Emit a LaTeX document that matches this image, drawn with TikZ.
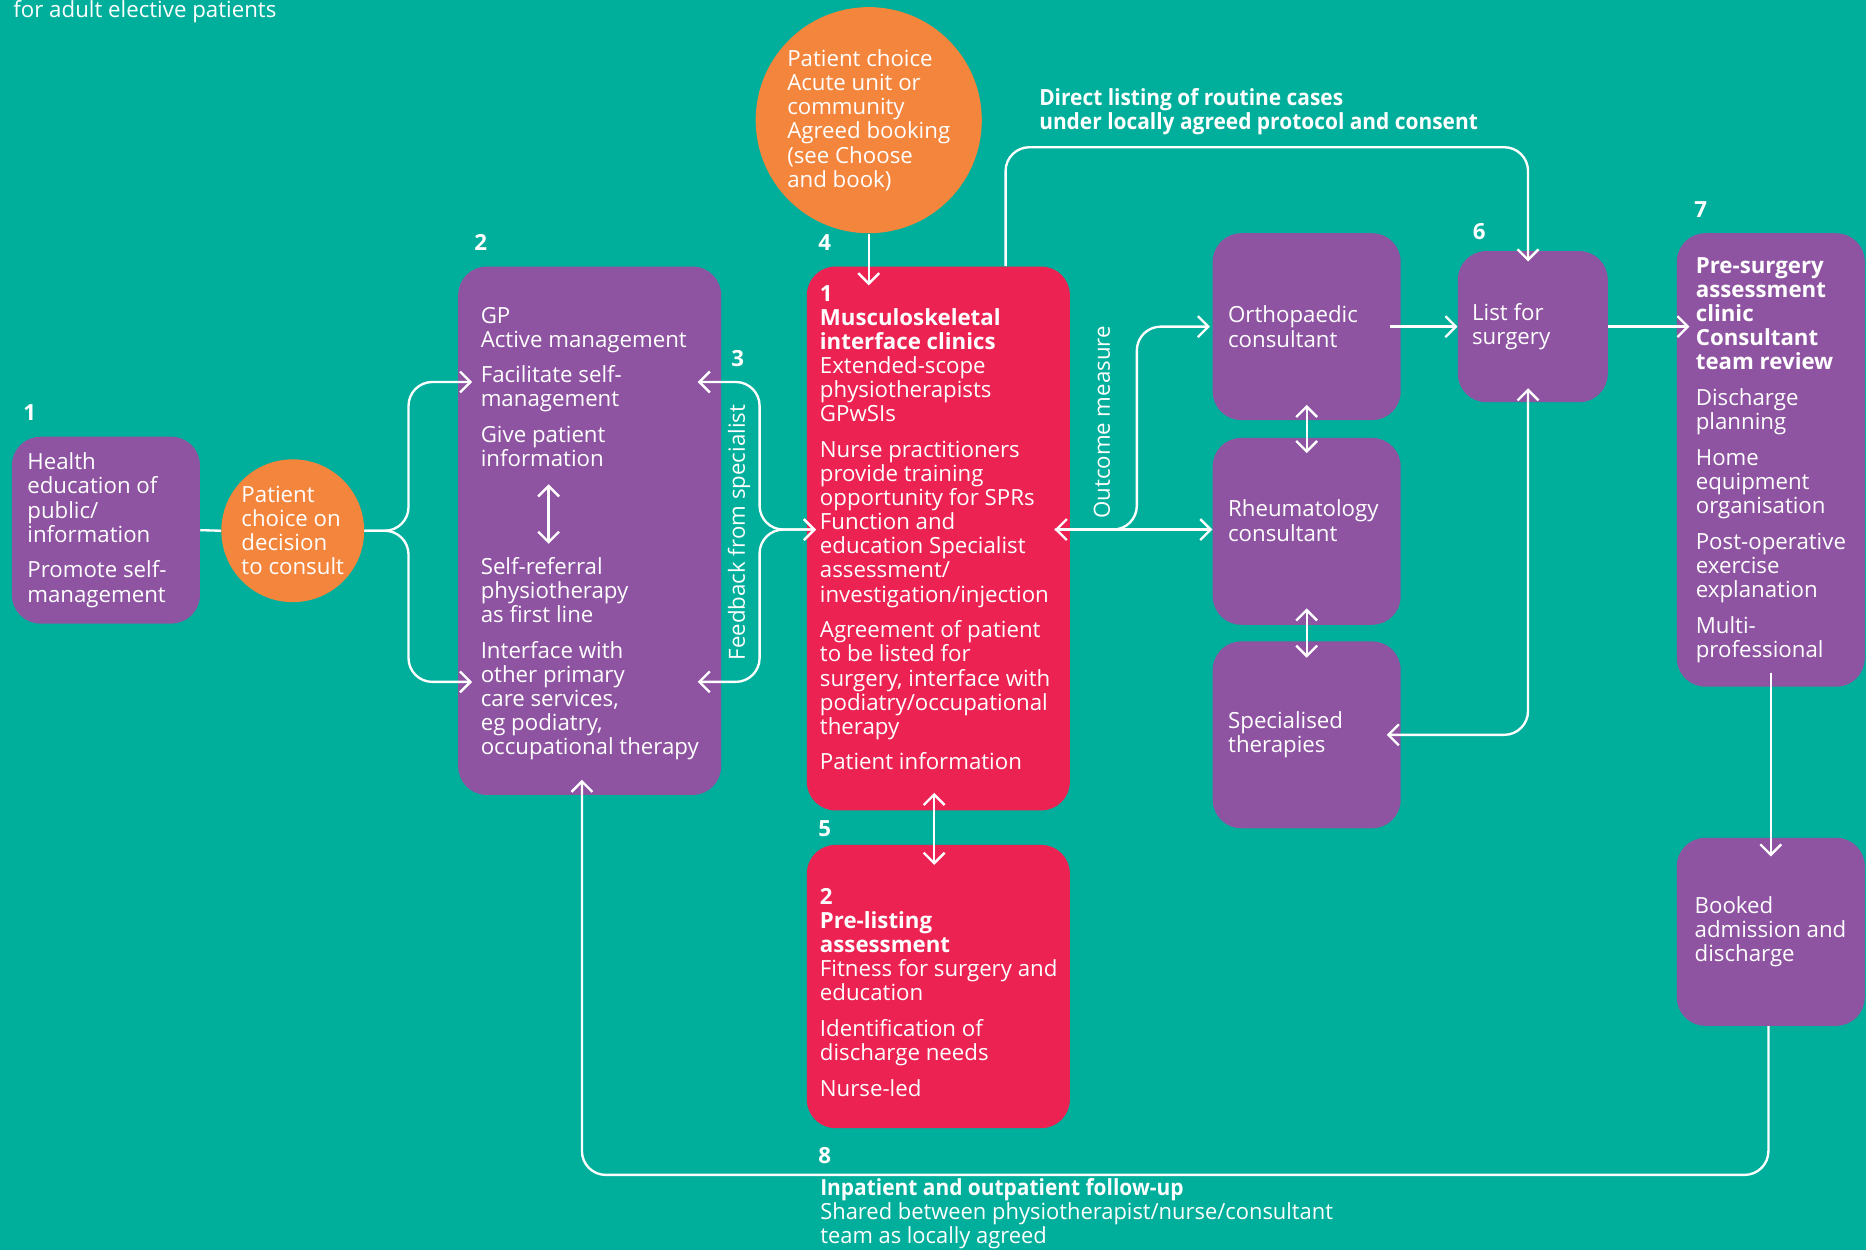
\documentclass[tikz,border=0pt]{standalone}
\usepackage{fontspec}
\setmainfont{Open Sans}
\newfontfamily\narrowfont[FakeStretch=0.985]{Open Sans}
\newfontfamily\narrowbold[FakeStretch=0.94]{Open Sans Bold}
\usetikzlibrary{arrows.meta}
\usetikzlibrary{positioning}

\definecolor{bgteal}{RGB}{0,175,155}
\definecolor{boxpurple}{RGB}{142,83,161}
\definecolor{boxred}{RGB}{236,34,82}
\definecolor{dotorange}{RGB}{243,133,60}

\newcommand{\flowfont}{\fontsize{13.3}{14.4}\selectfont}

\tikzset{
  >={Straight Barb[length=2.2mm,width=4.4mm]},
  purplebox/.style={rectangle, rounded corners=0.6cm, fill=boxpurple, inner sep=0pt},
  redbox/.style={rectangle, rounded corners=0.6cm, fill=boxred, inner sep=0pt},
  choicedot/.style={circle, fill=dotorange, inner sep=0pt, text=white, align=left, font=\flowfont},
  boxtext/.style={align=left, inner sep=0pt, text=white, font=\flowfont},
  steplabel/.style={inner sep=0pt, text=white, font=\flowfont\bfseries},
  pathlabel/.style={anchor=west, align=left, inner sep=0pt, text=white, font=\fontsize{13.3}{14.4}\narrowfont},
  flow/.style={draw=white, line width=1.4pt, rounded corners=0.5cm}
}

\begin{document}
\begin{tikzpicture}

  \useasboundingbox (0,0) rectangle (39.2,26.25);
  \fill[bgteal] (0,0) rectangle (39.2,26.25);

  % ---------- Title ----------
  \node[anchor=base west, inner sep=0pt, text=white, font=\flowfont] (title) at (0.275,25.875) {for adult elective patients};

  % ---------- Primary care ----------

  % Shapes
  \node[purplebox, minimum width=3.95cm, minimum height=3.925cm] (health) at (2.225,15.1125) {};
  \node[choicedot, minimum size=3cm] (choice1) at (6.15,15.1) {Patient\\choice on\\decision\\to consult};
  \node[purplebox, minimum width=5.525cm, minimum height=11.1cm] (gp) at (12.3875,15.1) {};

  % Labels
  \node[boxtext, right=0.325cm of health.west] (healthtxt) {Health\\education of\\public/\\information\\[7pt]Promote self-\\management};
  \node[boxtext, right=0.475cm of gp.west, yshift=-0.06cm] (gptxt) {GP\\Active management\\[7pt]Facilitate self-\\management\\[7pt]Give patient\\information\\[50pt]Self-referral\\physiotherapy\\as first line\\[7pt]Interface with\\other primary\\care services,\\eg podiatry,\\occupational therapy};
  \node[steplabel] (n1) at (0.625,17.575) {1};
  \node[steplabel] (n2) at (10.1,21.15) {2};
  \node[steplabel] (n3) at (15.5,18.725) {3};
  \node[text=white, rotate=90, inner sep=0pt, font=\flowfont] (fbtxt) at (15.525,15.0625) {Feedback from specialist};

  % ---------- Interface service ----------

  % Shapes
  \node[choicedot, minimum size=4.75cm] (choice2) at (18.25,23.725) {Patient choice\\Acute unit or\\community\\Agreed booking\\(see Choose\\and book)};
  \node[redbox, minimum width=5.525cm, minimum height=11.425cm] (msk) at (19.7125,14.9375) {};
  \node[redbox, minimum width=5.525cm, minimum height=5.95cm] (prelist) at (19.7125,5.525) {};

  % Labels
  \node[boxtext, right=0.275cm of msk.west, yshift=0.225cm] (msktxt) {\textbf{1}\\\textbf{Musculoskeletal}\\\textbf{interface clinics}\\Extended-scope\\physiotherapists\\GPwSIs\\[7pt]Nurse practitioners\\provide training\\opportunity for SPRs\\Function and\\education Specialist\\assessment/\\investigation/injection\\[7pt]Agreement of patient\\to be listed for\\surgery, interface with\\podiatry/occupational\\therapy\\[7pt]Patient information};
  \node[boxtext, right=0.275cm of prelist.west, yshift=-0.125cm] (prelisttxt) {\textbf{2}\\\textbf{Pre-listing}\\\textbf{assessment}\\Fitness for surgery and\\education\\[7pt]Identification of\\discharge needs\\[7pt]Nurse-led};
  \node[steplabel] (n4) at (17.325,21.15) {4};
  \node[steplabel] (n5) at (17.325,8.85) {5};
  \node[text=white, rotate=90, inner sep=0pt, font=\flowfont] (outtxt) at (23.15,17.375) {Outcome measure};
  \node[pathlabel, font=\fontsize{13.3}{14.4}\narrowbold] (dltxt) at (21.825,23.9) {Direct listing of routine cases\\under locally agreed protocol and consent};

  % ---------- Secondary care ----------

  % Shapes
  \node[purplebox, minimum width=3.95cm, minimum height=3.925cm] (ortho) at (27.45,19.3875) {};
  \node[purplebox, minimum width=3.95cm, minimum height=3.925cm] (rheum) at (27.45,15.0875) {};
  \node[purplebox, minimum width=3.95cm, minimum height=3.925cm] (spec) at (27.45,10.8125) {};
  \node[purplebox, minimum width=3.15cm, minimum height=3.175cm] (listsurg) at (32.2,19.3875) {};
  \node[purplebox, minimum width=3.95cm, minimum height=9.525cm] (presurg) at (37.2,16.5875) {};
  \node[purplebox, minimum width=3.95cm, minimum height=3.95cm] (booked) at (37.2,6.675) {};

  % Labels
  \node[boxtext, right=0.325cm of ortho.west] (orthotxt) {Orthopaedic\\consultant};
  \node[boxtext, right=0.325cm of rheum.west, yshift=0.225cm] (rheumtxt) {Rheumatology\\consultant};
  \node[boxtext, right=0.325cm of spec.west] (spectxt) {Specialised\\therapies};
  \node[boxtext, right=0.3cm of listsurg.west] (listsurgtxt) {List for\\surgery};
  \node[boxtext, right=0.4cm of presurg.west] (presurgtxt) {\textbf{Pre-surgery}\\\textbf{assessment}\\\textbf{clinic}\\\textbf{Consultant}\\\textbf{team review}\\[7pt]Discharge\\planning\\[7pt]Home\\equipment\\organisation\\[7pt]Post-operative\\exercise\\explanation\\[7pt]Multi-\\professional};
  \node[boxtext, right=0.375cm of booked.west] (bookedtxt) {Booked\\admission and\\discharge};
  \node[steplabel] (n6) at (31.075,21.375) {6};
  \node[steplabel] (n7) at (35.725,21.85) {7};
  \node[steplabel] (n8) at (17.325,1.975) {8};
  \node[pathlabel] (futxt) at (17.225,0.75) {{\narrowbold Inpatient and outpatient follow-up}\\Shared between physiotherapist/nurse/consultant\\team as locally agreed};

  % ---------- Lines ----------
  \coordinate (midrow) at (0,15.125);
  \coordinate (gpin1) at ([xshift=0.3cm]gp.west |- 0,18.225);
  \coordinate (gpin2) at ([xshift=0.3cm]gp.west |- 0,11.925);
  \coordinate (gpfb1) at ([xshift=-0.5cm]gp.east |- gpin1);
  \coordinate (gpfb2) at ([xshift=-0.5cm]gp.east |- gpin2);
  \coordinate (mskin) at ([xshift=0.2cm]msk.west |- midrow);
  \coordinate (outtip) at ([xshift=-0.325cm]msk.east |- midrow);

  \draw[flow] (health.east) -- (choice1.west);
  \draw[flow, ->] (choice1.east) -- ++(0.925,0) |- (gpin1);
  \draw[flow, ->] (choice1.east) -- ++(0.925,0) |- (gpin2);
  \draw[flow, <->] ([shift={(-0.8625,0.975)}]gp.center) -- ([shift={(-0.8625,-0.275)}]gp.center);
  \draw[flow, <->] (gpfb1) -- ([xshift=1.3cm]gpfb1) |- (mskin);
  \draw[flow, <->] (gpfb2) -- ([xshift=1.3cm]gpfb2) |- (mskin);
  \draw[flow, ->] (choice2.south) -- ([yshift=-0.4cm]msk.north -| choice2.south);
  \draw[flow, <->] ([xshift=-0.0875cm,yshift=0.375cm]msk.south) -- ([xshift=-0.0875cm,yshift=-0.425cm]prelist.north);
  \draw[flow, ->] ([xshift=1.4125cm]msk.north) -- ++(0,2.5) -| ([xshift=-0.1cm,yshift=-0.225cm]listsurg.north);
  \draw[flow, <->] (outtip) -- (rheum.west |- outtip);
  \draw[flow, ->] (outtip) -- ([xshift=1.725cm]outtip) |- ([xshift=-0.05cm]ortho.west);
  \draw[flow, <->] ([yshift=0.325cm]ortho.south) -- ([yshift=-0.325cm]rheum.north);
  \draw[flow, <->] ([yshift=0.35cm]rheum.south) -- ([yshift=-0.35cm]spec.north);
  \draw[flow, ->] ([xshift=-0.225cm]ortho.east) -- (listsurg.west);
  \draw[flow, <->] ([xshift=-0.3cm]spec.east) -| ([xshift=-0.1cm,yshift=0.3cm]listsurg.south);
  \draw[flow, ->] (listsurg.east) -- ([xshift=0.275cm]presurg.west |- listsurg.east);
  \draw[flow, ->] ([yshift=0.3cm]presurg.south) -- ([yshift=-0.4cm]booked.north);
  \draw[flow, ->] ([xshift=-0.05cm]booked.south) -- ++(0,-3.125) -| ([xshift=-0.1625cm,yshift=0.325cm]gp.south);
\end{tikzpicture}
\end{document}
